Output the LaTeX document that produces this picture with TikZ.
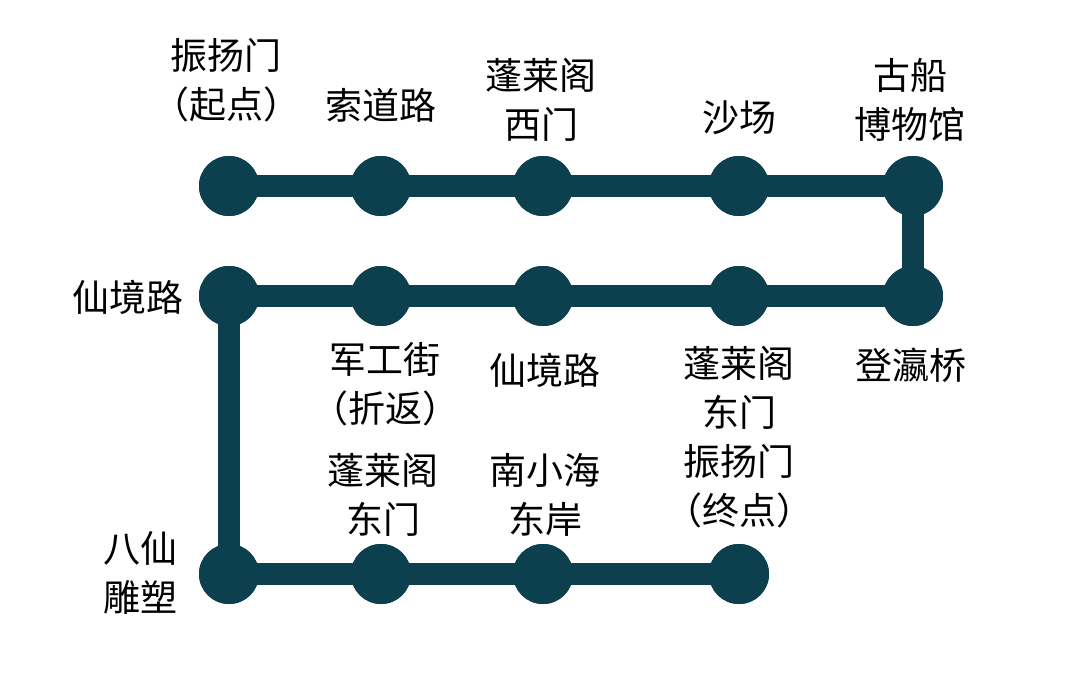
\documentclass[tikz,border=0pt]{standalone}
\usepackage{fontspec}
\newfontfamily\cjk{Noto Sans CJK SC}
\definecolor{teal1}{RGB}{12,64,78}
\begin{document}
\begin{tikzpicture}[x=1pt,y=-1pt,
  stop/.style={circle,fill=teal1,minimum size=60pt,inner sep=0pt},
  track/.style={draw=teal1,line width=22pt},
  lbl/.style={font=\cjk\fontsize{37}{49}\selectfont,align=center,inner sep=0pt,text=black}]
\useasboundingbox (0,0) rectangle (1080,696);
% stations
\node[stop] (a1) at (229,186) {};
\node[stop] (a2) at (381,186) {};
\node[stop] (a3) at (543,186) {};
\node[stop] (a4) at (739,186) {};
\node[stop] (a5) at (913,186) {};
\node[stop] (b1) at (229,296) {};
\node[stop] (b2) at (381,296) {};
\node[stop] (b3) at (543,296) {};
\node[stop] (b4) at (739,296) {};
\node[stop] (b5) at (913,296) {};
\node[stop] (c1) at (229,574) {};
\node[stop] (c2) at (381,574) {};
\node[stop] (c3) at (543,574) {};
\node[stop] (c4) at (739,574) {};
% tracks
\begin{scope}[on background layer/.try]
\end{scope}
\draw[track] (a1.center) -- (a5.center) -- (b5.center) -- (b1.center) -- (c1.center) -- (c4.center);
% redraw stops on top
\foreach \n in {a1,a2,a3,a4,a5,b1,b2,b3,b4,b5,c1,c2,c3,c4}{\fill[teal1] (\n) circle (30pt);}
% labels
\node[lbl] (la1) at (226,80) {振扬门\\（起点）};
\node[lbl] (la2) at (381,105) {索道路};
\node[lbl] (la3) at (541,100) {蓬莱阁\\西门};
\node[lbl] (la4) at (739,118) {沙场};
\node[lbl] (la5) at (910,100) {古船\\博物馆};
\node[lbl,anchor=east] (lb1) at (184,297) {仙境路};
\node[lbl] (lb2) at (385,384) {军工街\\（折返）};
\node[lbl] (lb3) at (545,370) {仙境路};
\node[lbl] (lb4) at (739,437) {蓬莱阁\\东门\\振扬门\\（终点）};
\node[lbl] (lb5) at (911,365) {登瀛桥};
\node[lbl] (lc2) at (383,495) {蓬莱阁\\东门};
\node[lbl] (lc3) at (545,495) {南小海\\东岸};
\node[lbl] (lc1) at (140,573) {八仙\\雕塑};
\end{tikzpicture}
\end{document}
